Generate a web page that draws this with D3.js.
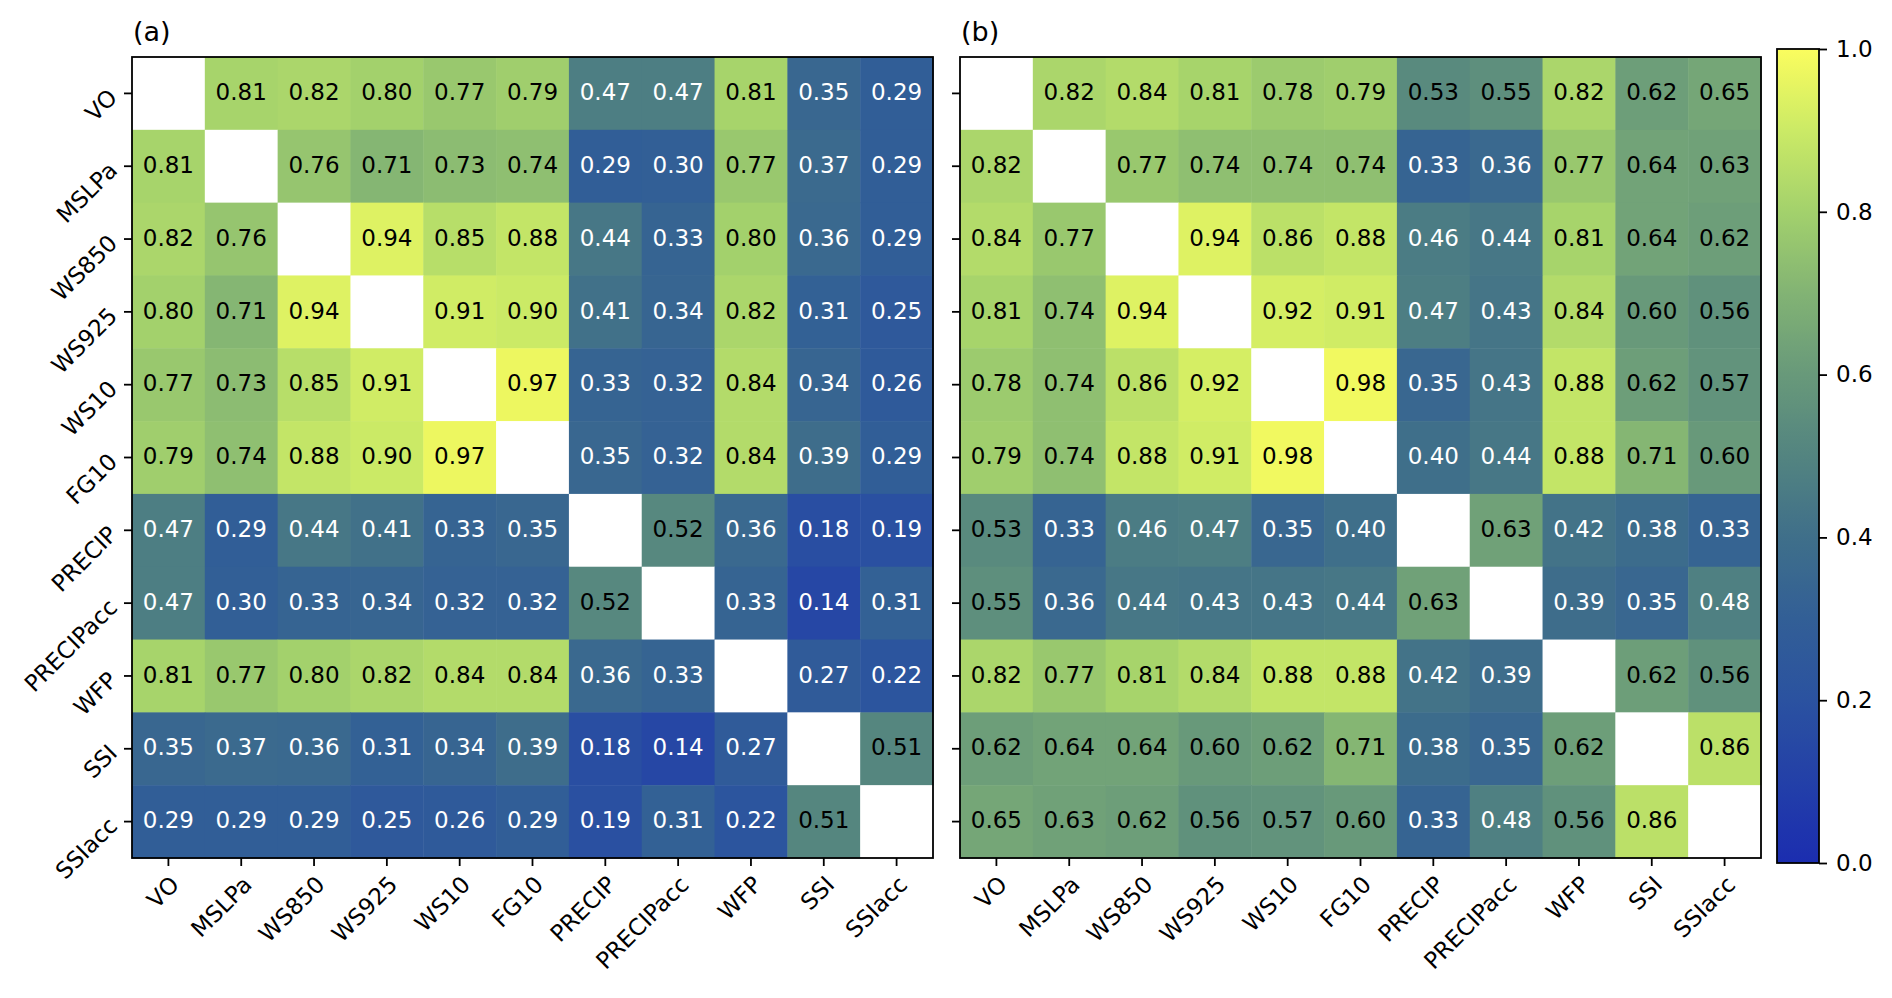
<!DOCTYPE html>
<html>
<head>
<meta charset="utf-8">
<script src="https://cdn.jsdelivr.net/npm/d3@7"></script>
<style>
  body { margin: 0; background: #fff; }
  svg { display: block; font-family: "DejaVu Sans", sans-serif; }
</style>
</head>
<body>
<div id="chart"></div>
<script>
// variables, same order for rows and columns
var categories = ['VO', 'MSLPa', 'WS850', 'WS925', 'WS10', 'FG10',
  'PRECIP', 'PRECIPacc', 'WFP', 'SSI', 'SSIacc'];

// (a) correlation matrix, null on the diagonal
var valuesA = [
  [null, 0.81, 0.82, 0.80, 0.77, 0.79, 0.47, 0.47, 0.81, 0.35, 0.29],
  [0.81, null, 0.76, 0.71, 0.73, 0.74, 0.29, 0.30, 0.77, 0.37, 0.29],
  [0.82, 0.76, null, 0.94, 0.85, 0.88, 0.44, 0.33, 0.80, 0.36, 0.29],
  [0.80, 0.71, 0.94, null, 0.91, 0.90, 0.41, 0.34, 0.82, 0.31, 0.25],
  [0.77, 0.73, 0.85, 0.91, null, 0.97, 0.33, 0.32, 0.84, 0.34, 0.26],
  [0.79, 0.74, 0.88, 0.90, 0.97, null, 0.35, 0.32, 0.84, 0.39, 0.29],
  [0.47, 0.29, 0.44, 0.41, 0.33, 0.35, null, 0.52, 0.36, 0.18, 0.19],
  [0.47, 0.30, 0.33, 0.34, 0.32, 0.32, 0.52, null, 0.33, 0.14, 0.31],
  [0.81, 0.77, 0.80, 0.82, 0.84, 0.84, 0.36, 0.33, null, 0.27, 0.22],
  [0.35, 0.37, 0.36, 0.31, 0.34, 0.39, 0.18, 0.14, 0.27, null, 0.51],
  [0.29, 0.29, 0.29, 0.25, 0.26, 0.29, 0.19, 0.31, 0.22, 0.51, null]
];

// (b) correlation matrix
var valuesB = [
  [null, 0.82, 0.84, 0.81, 0.78, 0.79, 0.53, 0.55, 0.82, 0.62, 0.65],
  [0.82, null, 0.77, 0.74, 0.74, 0.74, 0.33, 0.36, 0.77, 0.64, 0.63],
  [0.84, 0.77, null, 0.94, 0.86, 0.88, 0.46, 0.44, 0.81, 0.64, 0.62],
  [0.81, 0.74, 0.94, null, 0.92, 0.91, 0.47, 0.43, 0.84, 0.60, 0.56],
  [0.78, 0.74, 0.86, 0.92, null, 0.98, 0.35, 0.43, 0.88, 0.62, 0.57],
  [0.79, 0.74, 0.88, 0.91, 0.98, null, 0.40, 0.44, 0.88, 0.71, 0.60],
  [0.53, 0.33, 0.46, 0.47, 0.35, 0.40, null, 0.63, 0.42, 0.38, 0.33],
  [0.55, 0.36, 0.44, 0.43, 0.43, 0.44, 0.63, null, 0.39, 0.35, 0.48],
  [0.82, 0.77, 0.81, 0.84, 0.88, 0.88, 0.42, 0.39, null, 0.62, 0.56],
  [0.62, 0.64, 0.64, 0.60, 0.62, 0.71, 0.38, 0.35, 0.62, null, 0.86],
  [0.65, 0.63, 0.62, 0.56, 0.57, 0.60, 0.33, 0.48, 0.56, 0.86, null]
];

var colorbarTicks = [0.0, 0.2, 0.4, 0.6, 0.8, 1.0];

var W = 1892, H = 998;
var fontSize = 23;

var svg = d3.select('#chart').append('svg')
  .attr('width', W)
  .attr('height', H);

// blue -> teal -> green -> yellow
var color = d3.scaleLinear()
  .domain([0, 0.2, 0.3, 0.4, 0.5, 0.6, 0.7, 0.8, 0.9, 1.0])
  .range(['#1b2db0', '#2b52a0', '#325f96', '#3f6f8a', '#538480',
          '#68997a', '#82b374', '#a3d16c', '#cbea66', '#fbfd5e'])
  .clamp(true);

function panel(left, values, title, showYLabels) {
  var top = 57, size = 801;

  var x = d3.scaleBand().domain(categories).range([0, size]);
  var y = d3.scaleBand().domain(categories).range([0, size]);

  var g = svg.append('g')
    .attr('transform', 'translate(' + left + ',' + top + ')');

  var cells = [];
  values.forEach(function(row, i) {
    row.forEach(function(v, j) {
      cells.push({ row: categories[i], col: categories[j], value: v });
    });
  });

  g.selectAll('rect.cell')
    .data(cells)
    .enter()
    .append('rect')
    .attr('class', 'cell')
    .attr('x', function(d) { return x(d.col); })
    .attr('y', function(d) { return y(d.row); })
    .attr('width', x.bandwidth() + 0.5)
    .attr('height', y.bandwidth() + 0.5)
    .attr('fill', function(d) { return d.value === null ? '#fff' : color(d.value); });

  g.selectAll('text.val')
    .data(cells.filter(function(d) { return d.value !== null; }))
    .enter()
    .append('text')
    .attr('class', 'val')
    .attr('x', function(d) { return x(d.col) + x.bandwidth() / 2; })
    .attr('y', function(d) { return y(d.row) + y.bandwidth() / 2; })
    .attr('dy', '0.29em')
    .attr('text-anchor', 'middle')
    .attr('font-size', fontSize)
    .attr('fill', function(d) { return d.value < 0.5 ? '#fff' : '#000'; })
    .text(function(d) { return d.value.toFixed(2); });

  // frame
  g.append('rect')
    .attr('width', size)
    .attr('height', size)
    .attr('fill', 'none')
    .attr('stroke', '#000')
    .attr('stroke-width', 1.8);

  var xAxis = g.append('g')
    .attr('transform', 'translate(0,' + size + ')')
    .call(d3.axisBottom(x).tickSize(8).tickPadding(0));
  xAxis.select('.domain').remove();
  xAxis.selectAll('line').attr('stroke-width', 1.8);
  xAxis.selectAll('text')
    .attr('font-size', fontSize)
    .attr('font-family', '"DejaVu Sans", sans-serif')
    .attr('fill', '#000')
    .attr('text-anchor', 'end')
    .attr('y', 0)
    .attr('dy', 0)
    .attr('transform', 'translate(0,16) rotate(-45) translate(0,17)');

  var yAxis = g.append('g')
    .call(d3.axisLeft(y).tickSize(8).tickPadding(0));
  yAxis.select('.domain').remove();
  yAxis.selectAll('line').attr('stroke-width', 1.8);
  yAxis.selectAll('text')
    .attr('font-size', fontSize)
    .attr('font-family', '"DejaVu Sans", sans-serif')
    .attr('fill', '#000')
    .attr('text-anchor', 'end')
    .attr('x', 0)
    .attr('dy', 0)
    .attr('transform', 'translate(-19,0) rotate(-45) translate(0,8)')
    .style('display', showYLabels ? null : 'none');

  svg.append('text')
    .attr('x', left + 1)
    .attr('y', 41)
    .attr('font-size', 27)
    .text(title);
}

panel(132, valuesA, '(a)', true);
panel(960, valuesB, '(b)', false);

// colour bar
var cbX = 1777, cbW = 42, cbTop = 49, cbBottom = 863;
var cbScale = d3.scaleLinear().domain([0, 1]).range([cbBottom, cbTop]);

var grad = svg.append('defs').append('linearGradient')
  .attr('id', 'cbgrad')
  .attr('x1', 0).attr('y1', 1).attr('x2', 0).attr('y2', 0);
grad.selectAll('stop')
  .data(d3.range(0, 1.0001, 0.02))
  .enter()
  .append('stop')
  .attr('offset', function(d) { return d; })
  .attr('stop-color', function(d) { return color(d); });

svg.append('rect')
  .attr('x', cbX)
  .attr('y', cbTop)
  .attr('width', cbW)
  .attr('height', cbBottom - cbTop)
  .attr('fill', 'url(#cbgrad)')
  .attr('stroke', '#000')
  .attr('stroke-width', 1.8);

var cbAxis = svg.append('g')
  .attr('transform', 'translate(' + (cbX + cbW) + ',0)')
  .call(d3.axisRight(cbScale).tickValues(colorbarTicks)
    .tickFormat(d3.format('.1f')).tickSize(8).tickPadding(9));
cbAxis.select('.domain').remove();
cbAxis.selectAll('line').attr('stroke-width', 1.8);
cbAxis.selectAll('text')
  .attr('font-size', fontSize)
  .attr('font-family', '"DejaVu Sans", sans-serif')
  .attr('fill', '#000');
</script>
</body>
</html>
